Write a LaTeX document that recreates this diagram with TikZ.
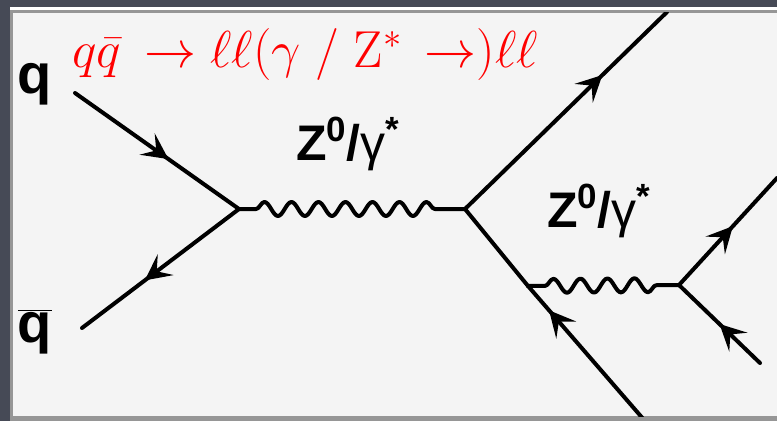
\documentclass[tikz,border=0pt]{standalone}
\usepackage{fix-cm}
\usepackage{fontspec}
\usepackage{tikz}
\usetikzlibrary{positioning,arrows.meta,decorations.pathmorphing,decorations.markings}
\newfontfamily\labelfont{Liberation Sans}
\definecolor{slidebg}{RGB}{70,74,86}
\definecolor{panelbg}{RGB}{244,244,244}
\definecolor{rimgray}{RGB}{150,150,150}

\tikzset{
  line/.style={line width=4pt, line cap=round},
  fermion/.style={line, postaction={decorate},
    decoration={markings, mark=at position #1 with {\arrow{Stealth[length=26pt,width=26pt,inset=11pt]}}}},
  fermion/.default=0.55,
  photon/.style={line, line join=round, decorate,
    decoration={snake, segment length=27pt, amplitude=7pt, pre length=17pt, post length=17pt}},
  plabel/.style={font=\labelfont\bfseries\fontsize{56}{60}\selectfont, inner sep=0pt},
  bosonlabel/.style={font=\labelfont\fontsize{50}{54}\selectfont, inner sep=0pt},
  redeq/.style={red, font=\fontsize{52}{56}\selectfont, inner sep=0pt}
}

\begin{document}
\begin{tikzpicture}[x=1pt,y=-1pt]
    % slide frame
    \useasboundingbox (0,0) rectangle (777,421);
    \fill[slidebg] (0,0) rectangle (777,421);
    \fill[white] (10,6.5) rectangle (777,9.5);
    \fill[rimgray] (10,9.5) rectangle (777,421);
    \fill[panelbg] (13,12.5) rectangle (777,416);

    % process
    \node[redeq, anchor=base west] (process) at (72,67)
        {$q\bar{q}\,\rightarrow\ell\ell(\gamma\;/\;\mathrm{Z}^{*}\,\rightarrow)\ell\ell$};

    % vertices and free ends
    \coordinate (qend) at (75,93);
    \coordinate (qbarend) at (82,328);
    \coordinate (vtxa) at (239,209);
    \coordinate (vtxb) at (465,209);
    \coordinate (lepa) at (667,12);
    \coordinate (lepb) at (645,421);
    \coordinate (vtxc) at (528,286);
    \coordinate (vtxd) at (679,285);
    \coordinate (lepc) at (777,178);
    \coordinate (lepd) at (760,363);

    \begin{scope}
    \clip (13,12.5) rectangle (777,416);
    \draw[fermion=0.57] (qend) -- (vtxa);
    \draw[fermion=0.6] (vtxa) -- (qbarend);
    \draw[photon] (vtxa) -- (vtxb);
    \draw[fermion=0.68] (vtxb) -- (lepa);
    \draw[line] (vtxb) -- (vtxc);
    \draw[fermion=0.82] (lepb) -- (vtxc);
    \draw[photon] (vtxc) -- (vtxd);
    \draw[fermion=0.55] (vtxd) -- (lepc);
    \draw[fermion=0.5] (lepd) -- (vtxd);
    \end{scope}

    % labels
    \node[plabel, anchor=base] (qlabel) at (35,93) {q};
    \node[plabel, anchor=base] (qbarlabel) at (35,342) {$\overline{\mbox{q}}$};
    \node[bosonlabel, anchor=base west] (bosona) at (296,160)
        {{\bfseries Z\textsuperscript{0}/}γ\textsuperscript{\bfseries *}};
    \node[bosonlabel, anchor=base west] (bosonb) at (547,227)
        {{\bfseries Z\textsuperscript{0}/}γ\textsuperscript{\bfseries *}};
\end{tikzpicture}
\end{document}
